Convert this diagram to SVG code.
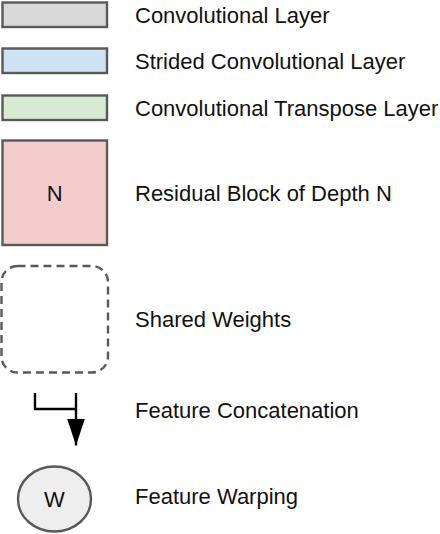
<svg xmlns="http://www.w3.org/2000/svg" width="440" height="534" viewBox="0 0 440 534">
<defs>
<style>
.box{stroke:#595959;stroke-width:2.4}
.lbl{font-family:"Liberation Sans",Arial,sans-serif;font-size:22px;fill:#111}
.ctr{text-anchor:middle}
.wire{fill:none;stroke:#000;stroke-width:2.4}
</style>
<marker id="arrow" viewBox="0 0 27 18" refX="27" refY="9" markerWidth="27" markerHeight="18" markerUnits="userSpaceOnUse" orient="auto">
<path d="M0,0 L27,9 L0,18 Z" fill="#000"/>
</marker>
</defs>
<rect width="440" height="534" fill="#fff"/>
<g id="conv">
<rect class="box" x="2.5" y="2.5" width="104.5" height="24.5" fill="#d9d9d9"/>
<text class="lbl" x="135" y="23">Convolutional Layer</text>
</g>
<g id="strided">
<rect class="box" x="2.5" y="48.5" width="104.5" height="24.5" fill="#cfe2f3"/>
<text class="lbl" x="135" y="69">Strided Convolutional Layer</text>
</g>
<g id="transpose">
<rect class="box" x="2.5" y="95.5" width="104.5" height="24.5" fill="#d9ead3"/>
<text class="lbl" x="135" y="116">Convolutional Transpose Layer</text>
</g>
<g id="residual">
<rect class="box" x="2.5" y="140.5" width="104.5" height="104.5" fill="#f4cccc"/>
<text class="lbl ctr" x="54.7" y="200.5">N</text>
<text class="lbl" x="135" y="201">Residual Block of Depth N</text>
</g>
<g id="shared">
<rect class="box" x="1.5" y="266" width="106.5" height="106.5" rx="16" ry="16" fill="none" stroke-dasharray="8 5"/>
<text class="lbl" x="135" y="327">Shared Weights</text>
</g>
<g id="connectors">
<path class="wire" d="M35,393 V409 H76"/>
<path class="wire" d="M76,393 V445.5" marker-end="url(#arrow)"/>
</g>
<g id="concat-label">
<text class="lbl" x="135" y="418">Feature Concatenation</text>
</g>
<g id="warp">
<ellipse class="box" cx="54.5" cy="499" rx="36.5" ry="32.5" fill="#eeeeee"/>
<text class="lbl ctr" x="54.5" y="506.5">W</text>
<text class="lbl" x="135" y="503.5">Feature Warping</text>
</g>
</svg>
